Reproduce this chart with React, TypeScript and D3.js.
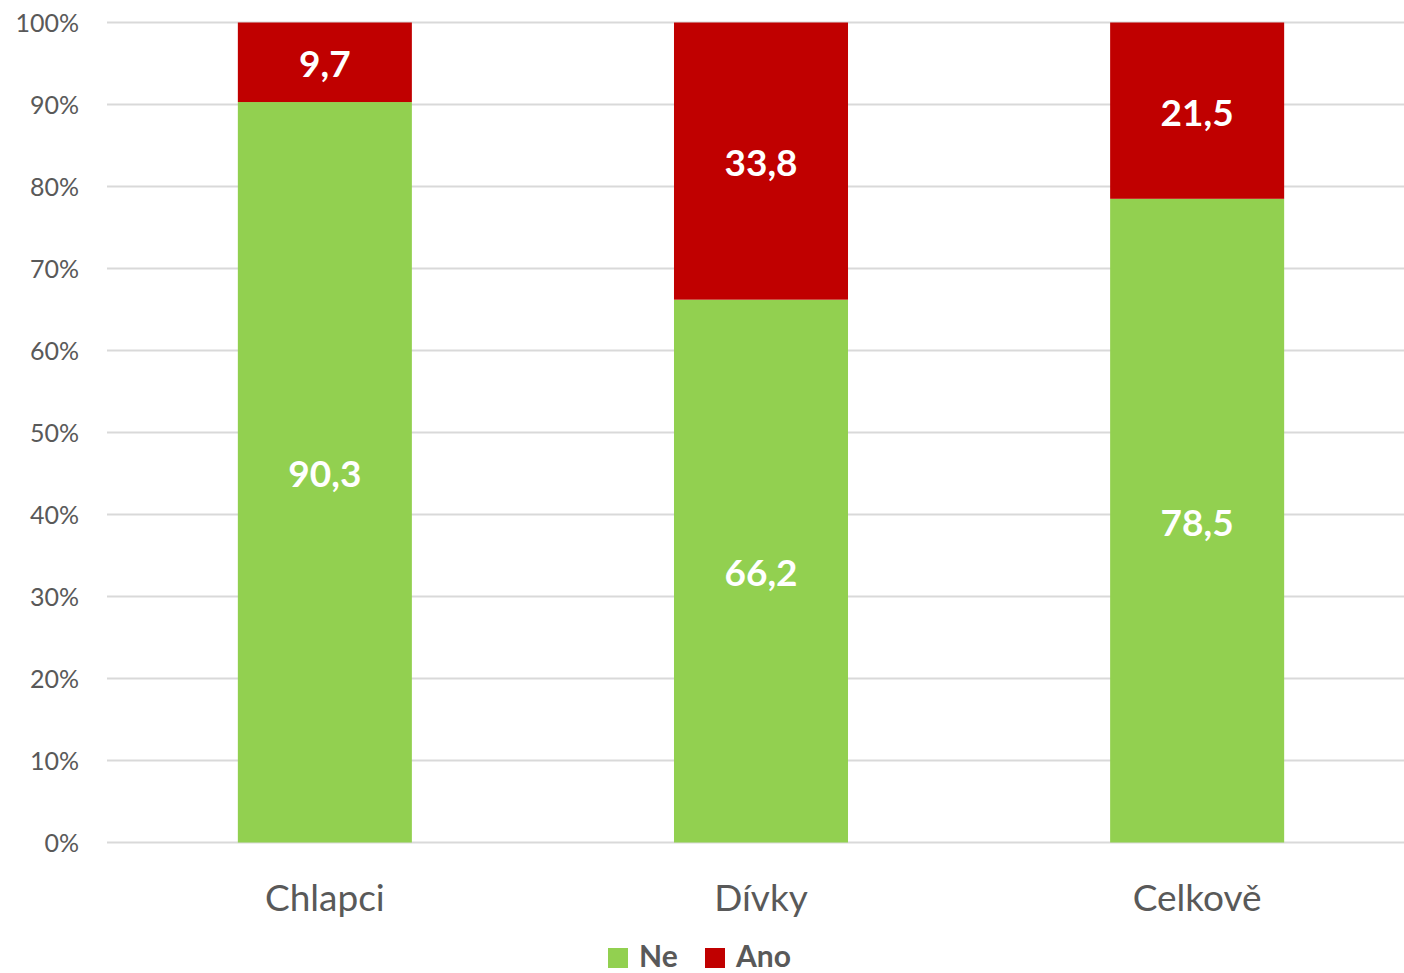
import React from "react";
import * as d3 from "d3";

const categories = ["Chlapci", "Dívky", "Celkově"];
const seriesNames = ["Ne", "Ano"];
const neValues = [90.3, 66.2, 78.5];
const anoValues = [9.7, 33.8, 21.5];
const seriesColors = ["#92D050", "#C00000"];
const yTicks = [0, 10, 20, 30, 40, 50, 60, 70, 80, 90, 100];

const W = 1404;
const H = 973;
const FONT = "Lato, 'Open Sans', sans-serif";

export default function App() {
  const left = 107, right = 1404, top = 22.5, bottom = 842.5;
  const x = d3.scaleBand<string>().domain(categories).range([left, 1415]).paddingInner(0.601).paddingOuter(0.3);
  const y = d3.scaleLinear().domain([0, 100]).range([bottom, top]);

  const rows = categories.map((c, i) => ({ cat: c, Ne: neValues[i], Ano: anoValues[i] }));
  const stack = d3.stack<any>().keys(seriesNames)(rows);

  return (
    <svg width={W} height={H} style={{ position: "absolute", left: 0, top: 0, background: "#fff" }} fontFamily={FONT}>
      {yTicks.map((t) => (
        <g key={t}>
          <line x1={left} x2={right} y1={y(t)} y2={y(t)} stroke="#D9D9D9" strokeWidth={2} />
          <text x={79} y={y(t)} dy="0.36em" textAnchor="end" fontSize={25} fill="#595959">
            {t}%
          </text>
        </g>
      ))}
      {stack.map((s, si) => (
        <g key={s.key}>
          {s.map((d, i) => {
            const x0 = x(categories[i])!;
            const bw = x.bandwidth();
            const y0 = y(d[1]);
            const y1 = y(d[0]);
            const v = si === 0 ? neValues[i] : anoValues[i];
            return (
              <g key={i}>
                <rect x={x0} y={y0} width={bw} height={y1 - y0} fill={seriesColors[si]} />
                <text x={x0 + bw / 2} y={(y0 + y1) / 2} dy="0.41em" textAnchor="middle" fontSize={37} fontWeight="bold" fill="#fff">
                  {String(v).replace(".", ",")}
                </text>
              </g>
            );
          })}
        </g>
      ))}
      {categories.map((c) => (
        <text key={c} x={x(c)! + x.bandwidth() / 2} y={898} dy="0.36em" textAnchor="middle" fontSize={37} fill="#595959">
          {c}
        </text>
      ))}
      {seriesNames.map((n, i) => {
        const lx = [608, 705][i];
        return (
          <g key={n}>
            <rect x={lx} y={948} width={20} height={20} fill={seriesColors[i]} />
            <text x={lx + 31} y={967} fontSize={30} fontWeight="bold" fill="#595959">
              {n}
            </text>
          </g>
        );
      })}
    </svg>
  );
}
